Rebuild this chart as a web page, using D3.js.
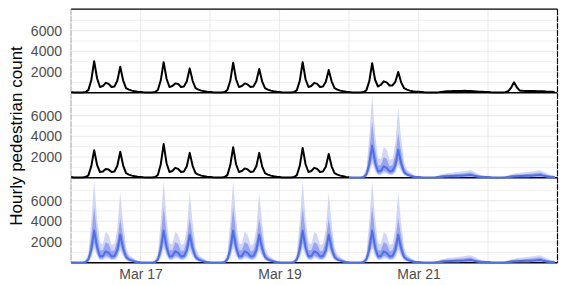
<!DOCTYPE html>
<html>
<head>
<meta charset="utf-8">
<script src="https://cdn.jsdelivr.net/npm/d3@7"></script>
<style>
  body { margin: 0; background: #fff; }
  text { font-family: "Liberation Sans", Arial, sans-serif; }
</style>
</head>
<body>
<div id="chart"></div>
<script>
// ---- data (hourly counts) ----
const startDay = [2020, 2, 16]; // Mon Mar 16
const nDays = 7;
const yTicks = [2000, 4000, 6000];
const xTickDays = [1, 3, 5]; // Mar 17, Mar 19, Mar 21
const xTickLabels = ["Mar 17", "Mar 19", "Mar 21"];

// panel 1: observed, whole week
const observedA = [
  [60, 30, 20, 15, 20, 60, 250, 1200, 3050, 1400, 550, 650, 950, 850, 550, 600, 1150, 2500, 1200, 450, 300, 200, 150, 100],
  [70, 35, 20, 15, 20, 60, 260, 1200, 2950, 1350, 550, 650, 900, 850, 550, 600, 1100, 2350, 1150, 450, 300, 200, 150, 100],
  [70, 35, 20, 15, 20, 60, 250, 1150, 2900, 1300, 550, 650, 900, 800, 550, 600, 1100, 2300, 1100, 450, 300, 200, 140, 90],
  [60, 30, 20, 15, 20, 60, 250, 1150, 2950, 1300, 550, 650, 950, 850, 550, 600, 1050, 2200, 1100, 450, 300, 200, 140, 90],
  [60, 30, 20, 15, 20, 60, 230, 1100, 2850, 1250, 600, 750, 1100, 1000, 700, 700, 1050, 2000, 1000, 450, 300, 200, 140, 100],
  [80, 60, 40, 30, 20, 20, 30, 50, 80, 110, 130, 150, 160, 170, 170, 170, 180, 170, 160, 140, 120, 100, 90, 70],
  [60, 40, 30, 20, 20, 20, 40, 150, 500, 1000, 500, 200, 180, 170, 170, 160, 160, 150, 140, 130, 110, 100, 80, 60]
];

// panel 2: observed Mar 16-19, then forecast
const observedB = [
  [60, 30, 20, 15, 20, 60, 230, 1100, 2650, 1250, 550, 600, 850, 800, 550, 600, 1150, 2500, 1200, 450, 300, 200, 150, 100],
  [70, 35, 20, 15, 20, 60, 260, 1300, 3250, 1400, 550, 650, 950, 850, 550, 600, 1100, 2400, 1150, 450, 300, 200, 150, 100],
  [70, 35, 20, 15, 20, 60, 250, 1200, 2950, 1300, 550, 650, 900, 800, 550, 600, 1100, 2400, 1100, 450, 300, 200, 140, 90],
  [60, 30, 20, 15, 20, 60, 250, 1150, 2880, 1300, 550, 650, 950, 850, 550, 600, 1050, 2300, 1100, 450, 300, 200, 140, 80]
];
const forecastStartB = 4; // Mar 20

// forecast quantiles, weekday and weekend profiles
const wkMedian = [40, 20, 15, 10, 15, 60, 300, 1300, 3100, 1500, 600, 650, 1100, 950, 600, 650, 1200, 2700, 1400, 550, 300, 200, 120, 70];
const wkLo80   = [15, 8, 5, 4, 6, 25, 150, 700, 1900, 900, 350, 380, 650, 550, 350, 380, 700, 1700, 850, 330, 180, 120, 70, 40];
const wkHi80   = [80, 50, 40, 30, 40, 150, 600, 2500, 5400, 2800, 1200, 1200, 2000, 1800, 1100, 1200, 2200, 4300, 2500, 1000, 550, 400, 250, 150];
const wkLo95   = [5, 3, 2, 2, 3, 12, 90, 450, 1400, 600, 250, 260, 450, 380, 250, 260, 500, 1200, 600, 230, 120, 80, 50, 25];
const wkHi95   = [120, 80, 60, 50, 60, 250, 900, 4000, 7950, 4200, 1900, 1800, 3000, 2700, 1700, 1800, 3300, 6800, 3800, 1500, 800, 550, 350, 200];

const weMedian = [60, 40, 30, 20, 20, 30, 50, 80, 110, 130, 150, 160, 170, 180, 190, 200, 220, 240, 260, 200, 150, 110, 80, 60];
const weLo80   = [30, 20, 15, 10, 10, 15, 25, 40, 60, 70, 80, 90, 95, 100, 105, 110, 120, 130, 140, 110, 80, 60, 40, 30];
const weHi80   = [110, 80, 60, 40, 40, 60, 100, 160, 220, 260, 300, 320, 340, 360, 380, 400, 440, 480, 500, 400, 300, 220, 160, 120];
const weLo95   = [15, 10, 8, 5, 5, 8, 12, 20, 30, 35, 40, 45, 50, 55, 55, 60, 65, 70, 75, 60, 45, 30, 20, 15];
const weHi95   = [160, 120, 90, 60, 60, 90, 150, 240, 330, 390, 450, 480, 510, 540, 570, 600, 650, 700, 730, 600, 450, 330, 240, 180];

// ---- layout ----
const width = 567, height = 285;
const margin = { left: 71, right: 9.5 };
const panelTop = 9.2, panelH = 83.5, panelStep = 85;
const nPanels = 3;

const svg = d3.select("#chart").append("svg")
  .attr("width", width).attr("height", height);

const t0 = new Date(Date.UTC(startDay[0], startDay[1], startDay[2]));
const dayTime = (d, h) => new Date(Date.UTC(startDay[0], startDay[1], startDay[2] + d, h || 0));

const x = d3.scaleUtc()
  .domain([t0, dayTime(nDays)])
  .range([margin.left, width - margin.right]);

function yScale(i) {
  const bottom = panelTop + panelStep * i + panelH;
  return d3.scaleLinear().domain([0, 8070]).range([bottom, bottom - panelH]);
}

// flatten day arrays into points
function toPoints(days, dayOffset) {
  const out = [];
  days.forEach((vals, d) => vals.forEach((v, h) => out.push({ t: dayTime(d + dayOffset, h), v })));
  return out;
}

function forecastPoints(fromDay) {
  const out = [];
  for (let d = fromDay; d < nDays; d++) {
    const weekend = d >= 5;
    const med = weekend ? weMedian : wkMedian;
    const lo80 = weekend ? weLo80 : wkLo80;
    const hi80 = weekend ? weHi80 : wkHi80;
    const lo95 = weekend ? weLo95 : wkLo95;
    const hi95 = weekend ? weHi95 : wkHi95;
    for (let h = 0; h < 24; h++) {
      out.push({ t: dayTime(d, h), med: med[h], lo80: lo80[h], hi80: hi80[h], lo95: lo95[h], hi95: hi95[h] });
    }
  }
  return out;
}

const panels = [
  { observed: toPoints(observedA, 0), forecast: null },
  { observed: toPoints(observedB, 0), forecast: forecastPoints(forecastStartB) },
  { observed: null, forecast: forecastPoints(0) }
];
// join black line to first forecast point
panels[1].observed.push({ t: dayTime(forecastStartB), v: wkMedian[0] });

const gridColor = "#ebebeb";
const xMinor = d3.range(0, nDays + 1).map(d => dayTime(d));
const yMinor = [1000, 2000, 3000, 4000, 5000, 6000, 7000];

panels.forEach((p, i) => {
  const y = yScale(i);
  const g = svg.append("g");
  const [yb, yt] = y.range();

  // grid
  g.selectAll(".hgrid").data(yMinor).enter().append("line")
    .attr("x1", margin.left).attr("x2", width - margin.right)
    .attr("y1", d => y(d)).attr("y2", d => y(d))
    .attr("stroke", gridColor).attr("stroke-width", d => d % 2000 === 0 ? 1.1 : 0.8);
  g.selectAll(".vgrid").data(xMinor).enter().append("line")
    .attr("x1", d => x(d)).attr("x2", d => x(d))
    .attr("y1", yt).attr("y2", yb)
    .attr("stroke", gridColor).attr("stroke-width", 1.1);

  const clipId = "clip" + i;
  svg.append("clipPath").attr("id", clipId).append("rect")
    .attr("x", margin.left).attr("y", yt)
    .attr("width", width - margin.left - margin.right).attr("height", panelH + 1);
  const plot = g.append("g").attr("clip-path", `url(#${clipId})`);

  if (p.forecast) {
    plot.append("path").datum(p.forecast)
      .attr("fill", "#d2d6fb")
      .attr("d", d3.area().x(d => x(d.t)).y0(d => y(d.lo95)).y1(d => y(d.hi95)));
    plot.append("path").datum(p.forecast)
      .attr("fill", "#97a4f6")
      .attr("d", d3.area().x(d => x(d.t)).y0(d => y(d.lo80)).y1(d => y(d.hi80)));
  }
  if (p.observed) {
    plot.append("path").datum(p.observed)
      .attr("fill", "none").attr("stroke", "#000").attr("stroke-width", 2)
      .attr("stroke-linejoin", "round")
      .attr("d", d3.line().x(d => x(d.t)).y(d => y(d.v)));
  }
  if (p.forecast) {
    plot.append("path").datum(p.forecast)
      .attr("fill", "none").attr("stroke", "#4a6ff3").attr("stroke-width", 2)
      .attr("stroke-linejoin", "round")
      .attr("d", d3.line().x(d => x(d.t)).y(d => y(d.med)));
  }

  // y axis labels
  const yAxis = d3.axisLeft(y).tickValues(yTicks).tickFormat(d3.format("d"))
    .tickSize(0).tickPadding(9);
  const ya = g.append("g").attr("transform", `translate(${margin.left},0)`).call(yAxis);
  ya.select(".domain").remove();
  ya.selectAll("text").attr("fill", "#4d4d4d").style("font-size", "14px")
    .style("font-family", "'Liberation Sans', Arial, sans-serif");
});

// frame
const frameTop = panelTop;
const frameBottom = panelTop + panelStep * (nPanels - 1) + panelH;
svg.append("line").attr("x1", margin.left).attr("x2", width - margin.right)
  .attr("y1", frameTop).attr("y2", frameTop).attr("stroke", "#000").attr("stroke-width", 1.2);
svg.append("line").attr("x1", width - margin.right).attr("x2", width - margin.right)
  .attr("y1", frameTop).attr("y2", frameBottom).attr("stroke", "#000").attr("stroke-width", 1.2)
  .attr("stroke-dasharray", "6,1");
svg.append("line").attr("x1", margin.left).attr("x2", margin.left)
  .attr("y1", frameTop).attr("y2", frameBottom).attr("stroke", "#999").attr("stroke-width", 0.8)
  .attr("stroke-dasharray", "6,1");
panels.forEach((p, i) => {
  const yb = yScale(i).range()[0];
  svg.insert("line", ":first-child").attr("x1", margin.left).attr("x2", width - margin.right)
    .attr("y1", yb).attr("y2", yb).attr("stroke", "#000").attr("stroke-width", 1.5);
});

// x axis
const xAxis = d3.axisBottom(x)
  .tickValues(xTickDays.map(d => dayTime(d)))
  .tickFormat((d, i) => xTickLabels[i])
  .tickSize(0).tickPadding(6);
const xa = svg.append("g").attr("transform", `translate(0,${frameBottom})`).call(xAxis);
xa.select(".domain").remove();
xa.selectAll("text").attr("fill", "#4d4d4d").style("font-size", "14px")
  .style("font-family", "'Liberation Sans', Arial, sans-serif");

// y title
svg.append("text")
  .attr("transform", `translate(22,${(frameTop + frameBottom) / 2}) rotate(-90)`)
  .attr("text-anchor", "middle")
  .attr("fill", "#000")
  .style("font-size", "17px")
  .text("Hourly pedestrian count");
</script>
</body>
</html>
